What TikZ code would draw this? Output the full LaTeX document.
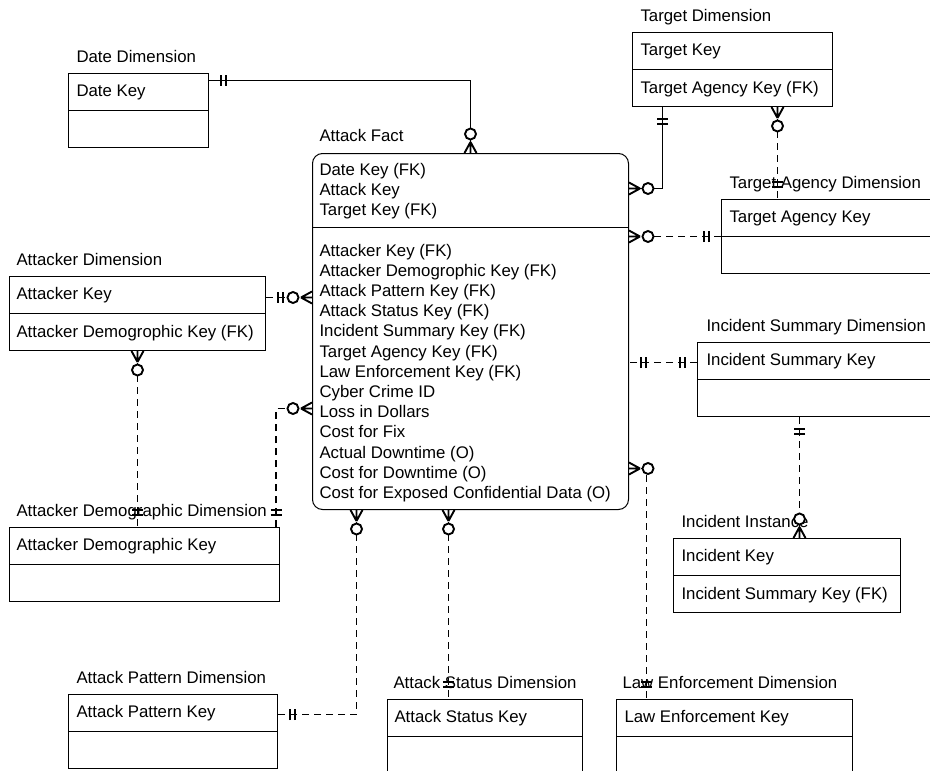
\documentclass[tikz,border=0pt]{standalone}
\usepackage{fontspec}
\setmainfont{Liberation Sans}
\usetikzlibrary{decorations.markings}

\begin{document}
\begin{tikzpicture}[x=1pt, y=-1pt, line width=1pt,
font=\fontsize{16.8}{20.2}\selectfont,
entity/.style={draw, anchor=north west, minimum height=74pt, inner sep=0pt},
fact/.style={draw, rounded corners=10pt, anchor=north west, minimum width=316pt, minimum height=356pt, inner sep=0pt},
title/.style={anchor=base west, inner sep=0pt},
key/.style={anchor=base west, inner sep=0pt},
link/.style={line width=1.9pt},
opt/.style={dash pattern=on 7pt off 5pt},
one start/.style={postaction={decorate, decoration={markings, mark=at position 0 with {\draw[solid] (12,-5.5) -- (12,5.5) (17,-5.5) -- (17,5.5);}}}},
one end/.style={postaction={decorate, decoration={markings, mark=at position 1 with {\draw[solid] (-12,-5.5) -- (-12,5.5) (-17,-5.5) -- (-17,5.5);}}}},
many start/.style={postaction={decorate, decoration={markings, mark=at position 0 with {\draw[solid] (11,0) -- (0,6) (11,0) -- (0,-6) (11,0) -- (0,0); \draw[solid, fill=white] (19,0) circle (5.5pt);}}}},
many end/.style={postaction={decorate, decoration={markings, mark=at position 1 with {\draw[solid] (-11,0) -- (0,6) (-11,0) -- (0,-6) (-11,0) -- (0,0); \draw[solid, fill=white] (-19,0) circle (5.5pt);}}}},
]
\useasboundingbox (0,0) rectangle (930,771);
\clip (0,0) rectangle (930,771);

\node[fact] (fact) at (312,153) {};
\draw ([yshift=-74pt]fact.north west) -- ([yshift=-74pt]fact.north east);
\node[title] (facttitle) at ([shift={(7,-12)}]fact.north west) {Attack Fact};
\foreach \t [count=\i] in {Date Key (FK), Attack Key, Target Key (FK)}
  \node[key] (factkey\i) at ([shift={(7,2+20*\i)}]fact.north west) {\t};
\foreach \t [count=\i] in {Attacker Key (FK), Attacker Demogrophic Key (FK), Attack Pattern Key (FK),
  Attack Status Key (FK), Incident Summary Key (FK), Target Agency Key (FK), Law Enforcement Key (FK),
  Cyber Crime ID, Loss in Dollars, Cost for Fix, Actual Downtime (O), Cost for Downtime (O),
  Cost for Exposed Confidential Data (O)}
  \node[key] (factattr\i) at ([shift={(7,82.8+20.2*\i)}]fact.north west) {\t};

\node[entity, minimum width=140pt] (datedim) at (68,73) {};
\draw (datedim.west) -- (datedim.east);
\node[title] (datetitle) at ([shift={(8,-11)}]datedim.north west) {Date Dimension};
\node[key] (datekey) at ([shift={(8,23)}]datedim.north west) {Date Key};

\node[entity, minimum width=200pt] (targetdim) at (632,32) {};
\draw (targetdim.west) -- (targetdim.east);
\node[title] (targettitle) at ([shift={(8,-11)}]targetdim.north west) {Target Dimension};
\node[key] (targetkey) at ([shift={(8,23)}]targetdim.north west) {Target Key};
\node[key] (targetfk) at ([shift={(8,24)}]targetdim.west) {Target Agency Key (FK)};

\node[entity, minimum width=230pt] (agencydim) at (721,199) {};
\draw (agencydim.west) -- (agencydim.east);
\node[title] (agencytitle) at ([shift={(8,-11)}]agencydim.north west) {Target Agency Dimension};
\node[key] (agencykey) at ([shift={(8,23)}]agencydim.north west) {Target Agency Key};

\node[entity, minimum width=256pt] (attackerdim) at (9,276) {};
\draw (attackerdim.west) -- (attackerdim.east);
\node[title] (attackertitle) at ([shift={(7,-11)}]attackerdim.north west) {Attacker Dimension};
\node[key] (attackerkey) at ([shift={(7,23)}]attackerdim.north west) {Attacker Key};
\node[key] (attackerfk) at ([shift={(7,24)}]attackerdim.west) {Attacker Demogrophic Key (FK)};

\node[entity, minimum width=270pt] (demodim) at (9,527) {};
\draw (demodim.west) -- (demodim.east);
\node[title] (demotitle) at ([shift={(7,-11)}]demodim.north west) {Attacker Demographic Dimension};
\node[key] (demokey) at ([shift={(7,23)}]demodim.north west) {Attacker Demographic Key};

\node[entity, minimum width=250pt] (incsumdim) at (697,342) {};
\draw (incsumdim.west) -- (incsumdim.east);
\node[title] (incsumtitle) at ([shift={(9,-11)}]incsumdim.north west) {Incident Summary Dimension};
\node[key] (incsumkey) at ([shift={(9,23)}]incsumdim.north west) {Incident Summary Key};

\node[entity, minimum width=227pt] (incinst) at (673,538) {};
\draw (incinst.west) -- (incinst.east);
\node[title] (insttitle) at ([shift={(8,-11)}]incinst.north west) {Incident Instance};
\node[key] (instkey) at ([shift={(8,23)}]incinst.north west) {Incident Key};
\node[key] (instfk) at ([shift={(8,24)}]incinst.west) {Incident Summary Key (FK)};

\node[entity, minimum width=209pt] (patterndim) at (68,694) {};
\draw (patterndim.west) -- (patterndim.east);
\node[title] (patterntitle) at ([shift={(8,-11)}]patterndim.north west) {Attack Pattern Dimension};
\node[key] (patternkey) at ([shift={(8,23)}]patterndim.north west) {Attack Pattern Key};

\node[entity, minimum width=195pt] (statusdim) at (387,699) {};
\draw (statusdim.west) -- (statusdim.east);
\node[title] (statustitle) at ([shift={(6,-11)}]statusdim.north west) {Attack Status Dimension};
\node[key] (statuskey) at ([shift={(7,23)}]statusdim.north west) {Attack Status Key};

\node[entity, minimum width=236pt] (lawdim) at (616,699) {};
\draw (lawdim.west) -- (lawdim.east);
\node[title] (lawtitle) at ([shift={(6,-11)}]lawdim.north west) {Law Enforcement Dimension};
\node[key] (lawkey) at ([shift={(8,23)}]lawdim.north west) {Law Enforcement Key};

\coordinate (datept) at ([yshift=30pt]datedim.east);
\draw[link, one start, many end] (datept) -| (fact.north);

\coordinate (targetpt) at ([xshift=-70pt]targetdim.south);
\coordinate (facttarget) at ([yshift=143pt]fact.east);
\draw[link, one start, many end] (targetpt) |- (facttarget);

\draw[link, opt, one start, many end] (agencydim.west) -- (agencydim.west -| fact.east);

\coordinate (agencypt) at ([xshift=45pt]targetdim.south);
\draw[link, opt, many start, one end] (agencypt) -- (agencypt |- agencydim.north);

\coordinate (attackerpt) at ([yshift=16pt]attackerdim.east);
\draw[link, opt, one start, many end] (attackerpt) -- (attackerpt -| fact.west);

\coordinate (demopt) at ([xshift=-4pt]demodim.north east);
\coordinate (factdemo) at ([yshift=-77pt]fact.west);
\draw[link, opt, one start, many end] (demopt) |- (factdemo);

\draw[link, opt, many start, one end] (attackerdim.south) -- (attackerdim.south |- demodim.north);

\coordinate (incsumpt) at ([yshift=17pt]incsumdim.west);
\draw[link, opt, one start, one end] (incsumpt) -- (incsumpt -| fact.east);

\coordinate (instpt) at ([xshift=12.5pt]incinst.north);
\draw[link, opt, one start, many end] (instpt |- incsumdim.south) -- (instpt);

\coordinate (factpattern) at ([xshift=-114pt]fact.south);
\coordinate (patternpt) at ([yshift=17pt]patterndim.east);
\draw[link, opt, many start, one end] (factpattern) |- (patternpt);

\coordinate (factstatus) at ([xshift=-22pt]fact.south);
\draw[link, opt, many start, one end] (factstatus) -- (factstatus |- statusdim.north);

\coordinate (factlaw) at ([yshift=-137pt]fact.east);
\coordinate (lawpt) at ([xshift=-88pt]lawdim.north);
\draw[link, opt, many start, one end] (factlaw) -| (lawpt);
\end{tikzpicture}
\end{document}
